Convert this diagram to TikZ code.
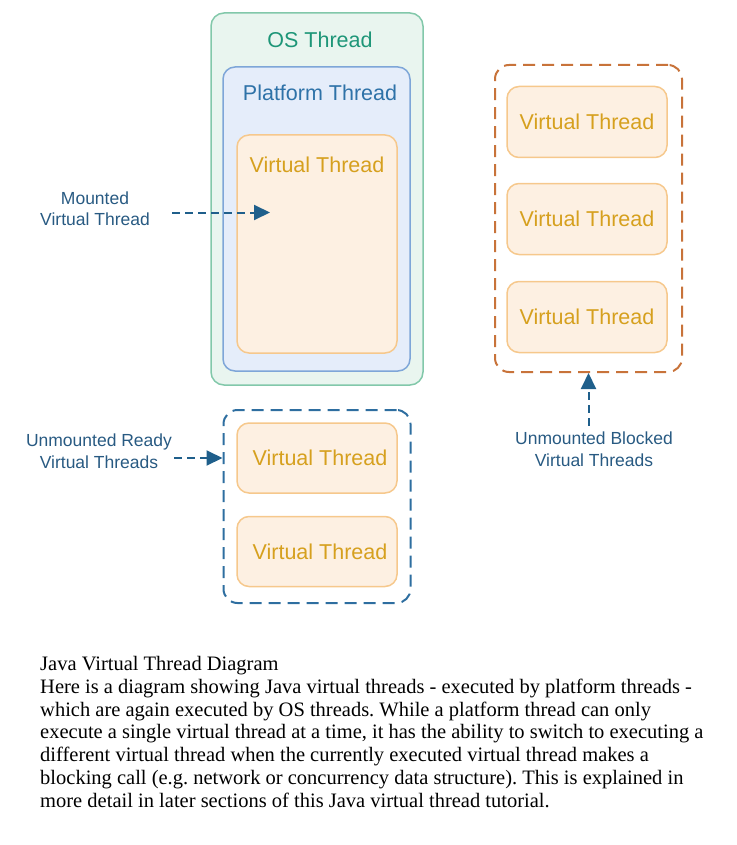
\documentclass[tikz,border=0pt]{standalone}
\usepackage{fontspec}
\setmainfont{Liberation Sans}
\newfontfamily\captionfont{Liberation Serif}
\usetikzlibrary{arrows.meta}
\frenchspacing

\definecolor{osline}{RGB}{130,200,170}
\definecolor{osfill}{RGB}{233,245,239}
\definecolor{ostext}{RGB}{30,150,120}
\definecolor{platline}{RGB}{126,166,216}
\definecolor{platfill}{RGB}{229,237,250}
\definecolor{plattext}{RGB}{46,114,168}
\definecolor{vtline}{RGB}{246,200,140}
\definecolor{vtfill}{RGB}{253,240,226}
\definecolor{vttext}{RGB}{214,160,30}
\definecolor{readyline}{RGB}{46,110,160}
\definecolor{blockline}{RGB}{200,115,58}
\definecolor{arrowblue}{RGB}{31,95,139}
\definecolor{labeltext}{RGB}{40,90,130}

\begin{document}
\begin{tikzpicture}[x=1pt, y=-1pt]
  \tikzset{
    title/.style={font={\fontsize{21.5pt}{24pt}\selectfont}, inner sep=0pt},
    label/.style={font={\fontsize{17.5pt}{21.5pt}\selectfont}, text=labeltext, align=center, inner sep=2pt},
    osthread/.style={draw=osline, fill=osfill, line width=1.5pt, rounded corners=13pt},
    platthread/.style={draw=platline, fill=platfill, line width=1.5pt, rounded corners=12pt},
    vthread/.style={draw=vtline, fill=vtfill, line width=1.5pt, rounded corners=12pt,
      minimum width=160pt, inner sep=0pt},
    group/.style={dashed, dash pattern=on 12pt off 7pt, line width=2pt, rounded corners=14pt, inner sep=0pt},
    pointer/.style={arrowblue, line width=2pt, dash pattern=on 8pt off 5pt,
      -{Triangle[length=16pt, width=15pt]}},
  }
  \useasboundingbox (0,0) rectangle (736,845);

  % OS thread with the mounted virtual thread
  \node[osthread, minimum width=212pt, minimum height=372pt] (os) at (317,199) {};
  \node[title, text=ostext] (ostitle) at (320,40) {OS Thread};
  \node[platthread, minimum width=187pt, minimum height=304pt] (plat) at (316.5,219) {};
  \node[title, text=plattext] (plattitle) at (320,93) {Platform Thread};
  \node[vthread, minimum height=218pt] (mounted) at (317,244) {};
  \node[title, text=vttext] (mountedtitle) at (317,165) {Virtual Thread};

  \node[label] (mountlabel) at (95,208.5) {Mounted\\Virtual Thread};
  \coordinate (mounttip) at (270,212.5);
  \draw[pointer] (mountlabel.east |- mounttip) ++(20,0) -- (mounttip);

  % unmounted ready virtual threads
  \node[group, draw=readyline, minimum width=187pt, minimum height=193pt] (ready) at (317,506.5) {};
  \foreach \i/\y in {1/458, 2/551.5} {
    \node[vthread, minimum height=70pt] (ready\i) at (317,\y) {};
    \node[title, text=vttext] (ready\i text) at (320,\y) {Virtual Thread};
  }
  \node[label] (readylabel) at (99,451) {Unmounted Ready\\Virtual Threads};
  \draw[pointer] (readylabel.east |- ready1.center) -- (ready.west |- ready1.center);

  % unmounted blocked virtual threads
  \node[group, draw=blockline, minimum width=187pt, minimum height=307pt] (blocked) at (588.5,218.5) {};
  \foreach \i/\y in {1/122, 2/219, 3/317} {
    \node[vthread, minimum height=71pt, title, text=vttext] (blocked\i) at (587,\y) {Virtual Thread};
  }
  \node[label] (blockedlabel) at (594,449) {Unmounted Blocked\\Virtual Threads};
  \draw[pointer] (blockedlabel.north -| blocked.south) ++(0,-4) -- (blocked.south);

  % caption below the diagram
  \node[anchor=north west, align=left, inner sep=0pt,
    font={\captionfont\fontsize{20.5pt}{22.8pt}\selectfont}] (caption) at (40,656) {%
    Java Virtual Thread Diagram\\
    Here is a diagram showing Java virtual threads - executed by platform threads -\\
    which are again executed by OS threads. While a platform thread can only\\
    execute a single virtual thread at a time, it has the ability to switch to executing a\\
    different virtual thread when the currently executed virtual thread makes a\\
    blocking call (e.g. network or concurrency data structure). This is explained in\\
    more detail in later sections of this Java virtual thread tutorial.};
\end{tikzpicture}
\end{document}
